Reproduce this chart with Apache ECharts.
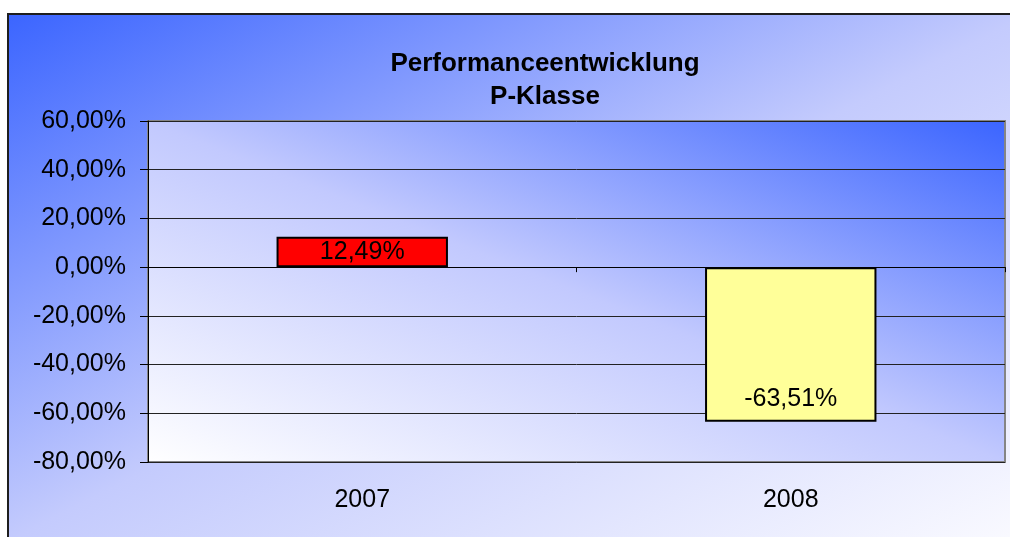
<!DOCTYPE html>
<html><head><meta charset="utf-8">
<script src="https://cdn.jsdelivr.net/npm/echarts@6/dist/echarts.min.js"></script>
<style>html,body{margin:0;padding:0;background:#fff}#c{width:1010px;height:537px}</style>
</head><body><div id="c"></div>
<script>
const categories = ['2007', '2008'];
const values = [12.49, -63.51];
const barColors = ['#ff0000', '#ffff99'];
const yMin = -80, yMax = 60, yStep = 20;
const titleLines = ['Performanceentwicklung', 'P-Klasse'];

const fmt = v => v.toFixed(2).replace('.', ',') + '%';
const chart = echarts.init(document.getElementById('c'));
const font = 'Liberation Sans, Arial, sans-serif';

// diagonal gradient whose isolines follow a box diagonal (like Excel)
function diagGrad(W, H, fromBottomLeft, stops) {
  const L2 = W * W + H * H, a = H * H / L2, b = W * W / L2;
  if (fromBottomLeft) {
    return new echarts.graphic.LinearGradient(0.5 - a, 0.5 + b, 0.5 + a, 0.5 - b, stops);
  }
  return new echarts.graphic.LinearGradient(0.5 - a, 0.5 - b, 0.5 + a, 0.5 + b, stops);
}
const outerW = 1002, outerH = 523, plotW = 857, plotH = 341;

chart.setOption({
  animation: false,
  graphic: [{
    type: 'rect', z: -10, silent: true,
    shape: { x: 8, y: 14, width: outerW + 10, height: outerH + 10 },
    style: {
      fill: diagGrad(outerW, outerH, false, [
        { offset: 0, color: '#3a64ff' },
        { offset: 0.5, color: '#c4cbfd' },
        { offset: 1, color: '#fbfbff' }
      ]),
      stroke: '#1e1e1e', lineWidth: 2
    }
  }],
  title: {
    text: titleLines.join('\n'),
    left: 540, top: 42, textAlign: 'center',
    textStyle: { fontFamily: font, fontSize: 26, fontWeight: 'bold', color: '#000', lineHeight: 33 }
  },
  grid: {
    left: 148, top: 121, width: plotW, height: plotH,
    show: true,
    backgroundColor: diagGrad(plotW, plotH, true, [
      { offset: 0, color: '#ffffff' },
      { offset: 0.5, color: '#c2c9fe' },
      { offset: 1, color: '#3a64ff' }
    ]),
    borderColor: '#858585', borderWidth: 2
  },
  xAxis: [{
    type: 'category', data: categories, position: 'bottom',
    axisLine: { onZero: true, lineStyle: { color: '#000', width: 1 } },
    axisTick: { show: true, length: 5, lineStyle: { color: '#000' } },
    axisLabel: { show: false }
  }, {
    type: 'category', data: categories, position: 'bottom',
    axisLine: { show: false, onZero: false }, axisTick: { show: false },
    axisLabel: { margin: 26, fontFamily: font, fontSize: 25, color: '#000' }
  }],
  yAxis: {
    type: 'value', min: yMin, max: yMax, interval: yStep,
    axisLine: { show: true, lineStyle: { color: '#000' } },
    axisTick: { show: true, length: 8, lineStyle: { color: '#000' } },
    axisLabel: { formatter: fmt, margin: 22, fontFamily: font, fontSize: 25, color: '#000' },
    splitLine: { show: true, lineStyle: { color: '#222', width: 1 } }
  },
  series: [{
    type: 'bar', xAxisIndex: 0,
    data: values.map((v, i) => ({
      value: v,
      itemStyle: { color: barColors[i] },
      label: { position: v >= 0 ? 'inside' : 'insideBottom', distance: 10 }
    })),
    barWidth: '40%',
    itemStyle: { borderColor: '#000', borderWidth: 2 },
    label: { show: true, formatter: p => fmt(p.value), fontFamily: font, fontSize: 25, color: '#000' }
  }]
});
</script></body></html>
